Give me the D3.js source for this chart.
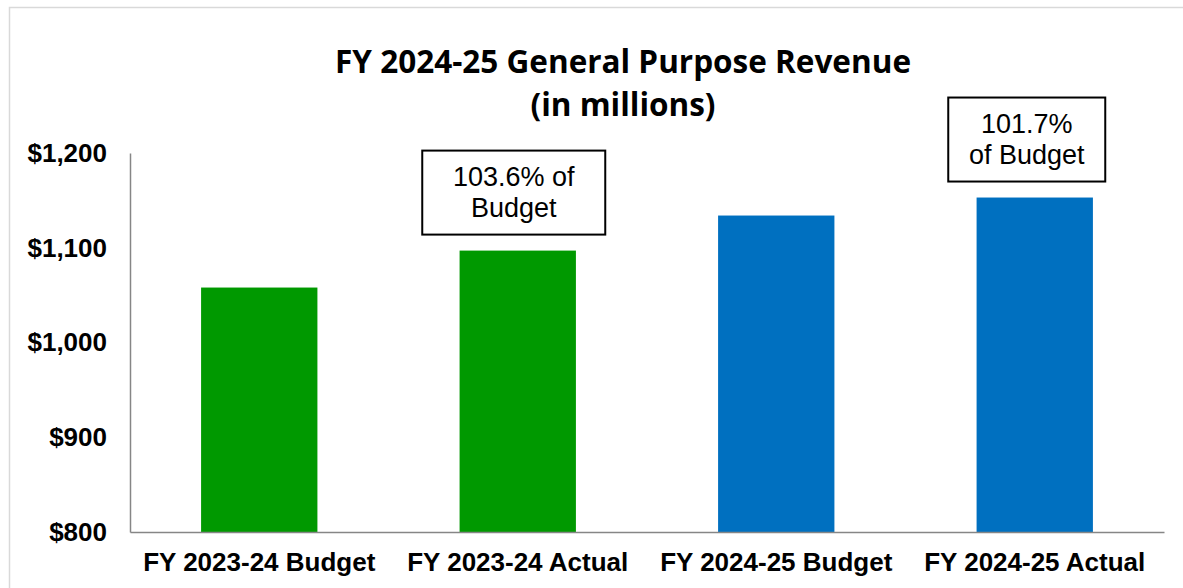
<!DOCTYPE html>
<html>
<head>
<meta charset="utf-8">
<script src="https://cdn.jsdelivr.net/npm/d3@7"></script>
<style>
  body { margin: 0; background: #fff; }
  svg { display: block; }
</style>
</head>
<body>
<div id="chart"></div>
<script>
// data
const categories = ["FY 2023-24 Budget", "FY 2023-24 Actual", "FY 2024-25 Budget", "FY 2024-25 Actual"];
const values = [1058, 1097, 1134, 1153];
const barColors = ["#009900", "#009900", "#0070C0", "#0070C0"];
const yTicks = [800, 900, 1000, 1100, 1200];
const notes = [
  { category: "FY 2023-24 Actual", lines: ["103.6% of", "Budget"] },
  { category: "FY 2024-25 Actual", lines: ["101.7%", "of Budget"] }
];

const width = 1183;
const height = 588;
const margin = { top: 153, right: 19, bottom: 56, left: 130 };
// text box layout (width, horizontal shift) for each note
const boxLayout = [{ w: 183, dx: -4 }, { w: 157, dx: -8 }];

const svg = d3.select("#chart")
  .append("svg")
  .attr("width", width)
  .attr("height", height);

// outer frame (only top/left visible in the crop)
svg.append("rect")
  .attr("x", 9.5)
  .attr("y", 7.5)
  .attr("width", width + 20)
  .attr("height", height + 20)
  .attr("fill", "none")
  .attr("stroke", "#d9d9d9")
  .attr("stroke-width", 1.5);

const x = d3.scaleBand()
  .domain(categories)
  .range([margin.left, width - margin.right])
  .paddingInner(0.55)
  .paddingOuter(0.275);

const y = d3.scaleLinear()
  .domain([800, 1200])
  .range([height - margin.bottom, margin.top]);

// title
const title = svg.append("text")
  .attr("text-anchor", "middle")
  .style("font-family", "'Open Sans', sans-serif")
  .style("font-weight", "bold")
  .style("font-size", "31.5px")
  .attr("fill", "#000");
title.append("tspan").attr("x", 623).attr("y", 73).text("FY 2024-25 General Purpose Revenue");
title.append("tspan").attr("x", 623).attr("y", 116).text("(in millions)");

// bars
svg.append("g")
  .selectAll("rect")
  .data(categories)
  .join("rect")
  .attr("x", d => x(d))
  .attr("width", x.bandwidth())
  .attr("y", (d, i) => y(values[i]))
  .attr("height", (d, i) => y(800) - y(values[i]))
  .attr("fill", (d, i) => barColors[i]);

// y axis
const yAxis = svg.append("g")
  .attr("transform", `translate(${margin.left},0)`)
  .call(d3.axisLeft(y).tickValues(yTicks).tickSize(0).tickPadding(23)
    .tickFormat(d => "$" + d3.format(",")(d)));
yAxis.select(".domain").attr("stroke", "#868686").attr("stroke-width", 1.5);
yAxis.selectAll("text")
  .style("font-family", "'Liberation Sans', Arial, sans-serif")
  .style("font-weight", "bold")
  .style("font-size", "26px")
  .attr("fill", "#000");

// x axis
const xAxis = svg.append("g")
  .attr("transform", `translate(0,${height - margin.bottom})`)
  .call(d3.axisBottom(x).tickSize(0).tickPadding(21));
xAxis.select(".domain").attr("stroke", "#868686").attr("stroke-width", 1.5);
xAxis.selectAll("text")
  .style("font-family", "'Liberation Sans', Arial, sans-serif")
  .style("font-weight", "bold")
  .style("font-size", "26px")
  .attr("fill", "#000");

// annotation boxes
const noteG = svg.append("g")
  .selectAll("g")
  .data(notes)
  .join("g")
  .attr("transform", (d, k) => {
    const i = categories.indexOf(d.category);
    return `translate(${x(d.category) + x.bandwidth() / 2 + boxLayout[k].dx},${y(values[i]) - 16})`;
  });

noteG.append("rect")
  .attr("x", (d, k) => -boxLayout[k].w / 2)
  .attr("y", -84)
  .attr("width", (d, k) => boxLayout[k].w)
  .attr("height", 84)
  .attr("fill", "#fff")
  .attr("stroke", "#000")
  .attr("stroke-width", 2);

noteG.append("text")
  .attr("text-anchor", "middle")
  .style("font-family", "'Liberation Sans', Arial, sans-serif")
  .style("font-size", "27px")
  .attr("fill", "#000")
  .selectAll("tspan")
  .data(d => d.lines)
  .join("tspan")
  .attr("x", 0)
  .attr("y", (d, i) => -49 + i * 31)
  .text(d => d);
</script>
</body>
</html>
